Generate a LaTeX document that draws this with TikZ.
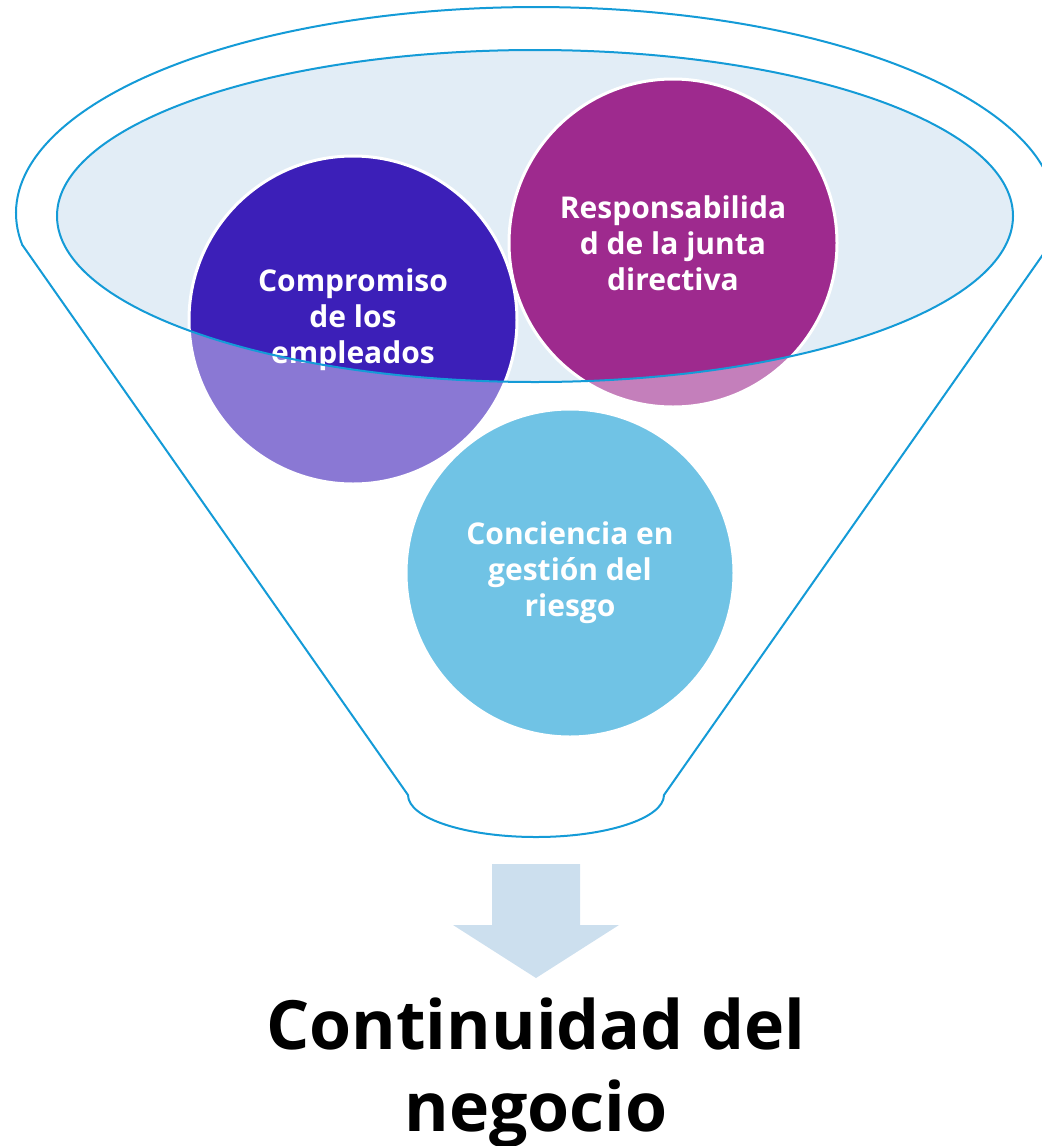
\documentclass[tikz,border=0pt]{standalone}
\usepackage{fontspec}
\setmainfont{Open Sans}
\usepackage{tikz}

\definecolor{rimblue}{RGB}{20,155,215}
\definecolor{holefill}{RGB}{226,237,246}
\definecolor{compcol}{RGB}{60,31,184}
\definecolor{respcol}{RGB}{158,42,142}
\definecolor{conccol}{RGB}{17,155,212}
\definecolor{arrowfill}{RGB}{204,223,238}

\begin{document}
\begin{tikzpicture}[x=0.5pt,y=-0.5pt]
        \useasboundingbox (0,0) rectangle (1041,1146);
        \fill[holefill] (535,216) ellipse [x radius=478, y radius=166];
        \begin{scope}[every node/.style={circle, draw=white, line width=1.5pt, minimum size=164pt, inner sep=0pt, align=center, text=white, font=\fontsize{15}{18}\selectfont\bfseries}]
                \node[fill=compcol] (Comp) at (353,320) {Compromiso\\de los\\empleados};
                \node[fill=respcol] (Resp) at (673,243) {Responsabilida\\d de la junta\\directiva};
                \node[fill=conccol] (Conc) at (570,573) {Conciencia en\\gestión del\\riesgo};
        \end{scope}
        \draw[rimblue, line width=1pt, fill=white, fill opacity=0.4, even odd rule]
                (22.3,244.9) -- (408,795) arc [start angle=180, end angle=0, x radius=128, y radius=42]
                -- (1049.7,244.9) arc [start angle=8.9, end angle=-188.9, x radius=520, y radius=206] -- cycle
                (535,216) ellipse [x radius=478, y radius=166];
        \fill[arrowfill] (492,864) -- (580,864) -- (580,925) -- (619,925) -- (536,978) -- (453,925) -- (492,925) -- cycle;
        \node[font=\fontsize{34}{41}\selectfont\bfseries, align=center] (Cont) at (536,1073) {Continuidad del\\negocio};
\end{tikzpicture}
\end{document}
